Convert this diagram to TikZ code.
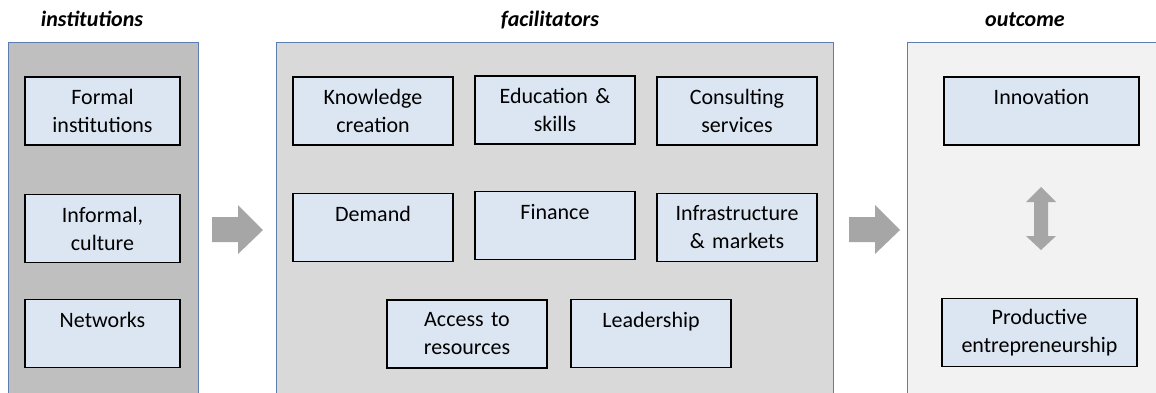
\documentclass[tikz,border=0pt]{standalone}
\usepackage{fontspec}
\setmainfont{Carlito}
\usetikzlibrary{calc}

\definecolor{panelline}{HTML}{5B7DB1}
\definecolor{boxfill}{HTML}{DCE6F2}
\definecolor{arrowgray}{HTML}{A6A6A6}

\tikzset{
  panel/.style={draw=panelline, line width=0.8pt},
  factor/.style={draw=black, line width=1.3pt, fill=boxfill, align=center,
    minimum height=68pt, inner sep=0pt,
    font=\fontsize{22}{28}\selectfont},
  heading/.style={font=\fontsize{22}{26}\selectfont\bfseries\itshape, anchor=base},
  blockarrow/.style={fill=arrowgray, draw=none}
}

\begin{document}
\begin{tikzpicture}[x=1pt, y=-1pt]
\useasboundingbox (0,0) rectangle (1156,392);

% Panels in the background
    \fill [fill=black!25] (8,42) rectangle (198,400);
    \fill [fill=black!15] (276,42) rectangle (833,400);
    \fill [fill=black!5] (907,42) rectangle (1170,400);
    \draw [panel] (8,400) -- (8,42) -- (198,42) -- (198,400);
    \draw [panel] (276,400) -- (276,42) -- (833,42) -- (833,400);
    \draw [panel] (907,400) -- (907,42) -- (1170,42);

    % Headings
    \node [heading] (hinst) at (92,26) {institutions};
    \node [heading] (hfac) at (550,26) {facilitators};
    \node [heading] (hout) at (1025,26) {outcome};

% Institutions
    \node [factor, minimum width=155pt, text width=155pt] (formal) at (102.5,111) {Formal\\institutions};
    \node [factor, minimum width=155pt, text width=155pt] (informal) at (102.5,228.5) {Informal,\\culture};
    \node [factor, minimum width=155pt, text width=155pt] (networks) at (102.5,333.5) {Networks\\\mbox{}};

% Facilitators
    \node [factor, minimum width=160pt, text width=160pt] (knowledge) at (373,111) {Knowledge\\creation};
    \node [factor, minimum width=160pt, text width=160pt] (education) at (555,110) {Education \&\\skills};
    \node [factor, minimum width=160pt, text width=160pt] (consulting) at (737,111) {Consulting\\services};
    \node [factor, minimum width=160pt, text width=160pt] (demand) at (373,227.5) {Demand\\\mbox{}};
    \node [factor, minimum width=160pt, text width=160pt] (finance) at (555,225.5) {Finance\\\mbox{}};
    \node [factor, minimum width=160pt, text width=160pt] (infra) at (737,227.5) {Infrastructure\\\& markets};
    \node [factor, minimum width=160pt, text width=160pt] (access) at (467,334) {Access to\\resources};
    \node [factor, minimum width=160pt, text width=160pt] (leader) at (651,333.5) {Leadership\\\mbox{}};

% Outcome
    \node [factor, minimum width=195pt, text width=195pt] (innov) at (1041.5,111) {Innovation\\\mbox{}};
    \node [factor, minimum width=195pt, text width=195pt] (prodent) at (1039.5,332.5) {Productive\\entrepreneurship};

    % Block arrows between the panels
    \foreach \x in {212, 849} {
        \fill [blockarrow] (\x,217) -- ++(26,0) -- ++(0,-12) -- ++(25,25)
            -- ++(-25,24) -- ++(0,-12) -- ++(-26,0) -- cycle;
    }

    % Double arrow between the outcomes
    \fill [blockarrow] (1041,187) -- (1056,202) -- (1048,202) -- (1048,236) -- (1056,236)
        -- (1041,250) -- (1026,236) -- (1034,236) -- (1034,202) -- (1026,202) -- cycle;

\end{tikzpicture}
\end{document}
